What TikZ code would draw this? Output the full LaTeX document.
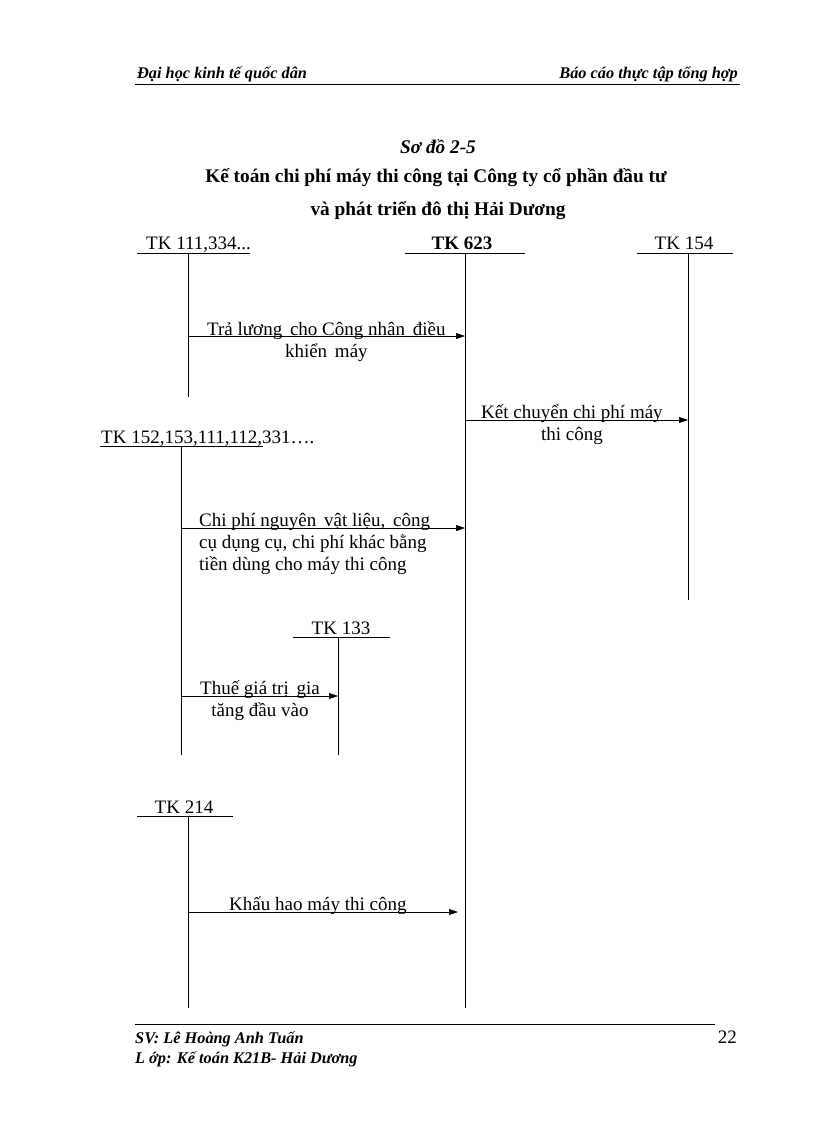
\documentclass[tikz,border=0pt]{standalone}
\usepackage{fontspec}
\setmainfont{Liberation Serif}
\usetikzlibrary{arrows.meta,positioning}

\begin{document}
\begin{tikzpicture}[x=1pt, y=-1pt,
    txt/.style={font=\fontsize{19}{22}\selectfont, inner sep=0pt},
    hdr/.style={font=\fontsize{16.3}{19}\selectfont\bfseries\itshape, inner sep=0pt},
    ttl/.style={font=\fontsize{19.3}{22}\selectfont\bfseries, inner sep=0pt, anchor=base},
    acc/.style={txt, anchor=base},
    tline/.style={line width=0.6pt},
    flow/.style={tline, -{Triangle[length=9pt,width=6pt]}},
]
    \useasboundingbox (0,0) rectangle (816,1123);
    % page header
    \node[hdr, anchor=base west] (hleft) at (137,79) {Đại học kinh tế quốc dân};
    \node[hdr, anchor=base east] (hright) at (738,79) {Báo cáo thực tập tổng hợp};
    \draw[tline] (135,84) -- (740,84);
    % title
    \node[ttl, font=\fontsize{19.3}{22}\selectfont\bfseries\itshape] (num) at (438,154) {Sơ đồ 2-5};
    \node[ttl] (title1) at (436,183) {Kế toán chi phí máy thi công tại Công ty cổ phần đầu tư};
    \node[ttl] (title2) at (438,216) {và phát triển đô thị Hải Dương};
    % TK 111,334
    \node[acc, anchor=base west] (tk111) at (146,250) {TK 111,334...};
    \draw[tline] (137,253) -- (250,253);
    \coordinate (a111) at (188,253);
    \coordinate (b111) at (188,397);
    \draw[tline] (a111) -- (b111);
    % TK 623
    \node[acc, font=\fontsize{19}{22}\selectfont\bfseries] (tk623) at (462,250) {TK 623};
    \draw[tline] (405,253) -- (525,253);
    \coordinate (a623) at (465,253);
    \coordinate (b623) at (465,1008);
    \draw[tline] (a623) -- (b623);
    % TK 154
    \node[acc] (tk154) at (684,250) {TK 154};
    \draw[tline] (637,253) -- (733,253);
    \coordinate (a154) at (688,253);
    \coordinate (b154) at (688,600);
    \draw[tline] (a154) -- (b154);
    % TK 152,153,...
    \node[acc, anchor=base west] (tk152) at (101,443) {TK 152,153,111,112,331….};
    \draw[tline] (100,446) -- (263,446);
    \coordinate (a152) at (181,446);
    \coordinate (b152) at (181,755);
    \draw[tline] (a152) -- (b152);
    % TK 133
    \node[acc] (tk133) at (341,634) {TK 133};
    \draw[tline] (293,637) -- (390,637);
    \coordinate (a133) at (338,637);
    \coordinate (b133) at (338,755);
    \draw[tline] (a133) -- (b133);
    % TK 214
    \node[acc] (tk214) at (184,813) {TK 214};
    \draw[tline] (137,816) -- (233,816);
    \coordinate (a214) at (188,816);
    \coordinate (b214) at (188,1008);
    \draw[tline] (a214) -- (b214);
    % flows
    \coordinate (s1) at (188,336); \coordinate (e1) at (465,336);
    \draw[flow] (s1) -- (e1);
    \node[txt, anchor=base west, align=center] (l1) at (207,357) {Trả lương\hspace{3pt} cho Công nhân\hspace{3pt} điều\\khiển\hspace{3pt} máy};
    \coordinate (s2) at (465,420); \coordinate (e2) at (688,420);
    \draw[flow] (s2) -- (e2);
    \node[txt, anchor=base west, align=center] (l2) at (481,440) {Kết chuyển chi phí máy\\thi công};
    \coordinate (s3) at (181,528); \coordinate (e3) at (465,528);
    \draw[flow] (s3) -- (e3);
    \node[txt, anchor=base west, align=left] (l3) at (199,570) {Chi phí nguyên\hspace{3pt} vật liệu,\hspace{3pt} công\\cụ dụng cụ, chi phí khác bằng\\tiền dùng cho máy thi công};
    \coordinate (s4) at (181,696); \coordinate (e4) at (338,696);
    \draw[flow] (s4) -- (e4);
    \node[txt, anchor=base west, align=center] (l4) at (200,716) {Thuế giá trị\hspace{3pt} gia\\tăng đầu vào};
    \coordinate (s5) at (188,912); \coordinate (e5) at (458,912);
    \draw[flow] (s5) -- (e5);
    \node[txt, anchor=base west] (l5) at (229,910) {Khấu hao máy thi công};
    % page footer
    \draw[tline] (135,1024) -- (715,1024);
    \node[hdr, anchor=base west] (sv) at (135,1043) {SV: Lê Hoàng Anh Tuấn};
    \node[hdr, anchor=base west] (lop) at (135,1063) {L ớp: Kế toán K21B- Hải Dương};
    \node[txt, anchor=base east] (page) at (737,1043) {22};
\end{tikzpicture}
\end{document}
